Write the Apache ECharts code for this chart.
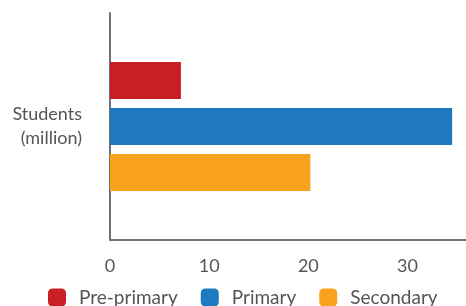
<!DOCTYPE html>
<html>
<head>
<meta charset="utf-8">
<script src="https://cdn.jsdelivr.net/npm/echarts@6/dist/echarts.min.js"></script>
<style>
  html, body { margin: 0; padding: 0; background: #fff; }
  #main { width: 466px; height: 306px; }
</style>
</head>
<body>
<div id="main"></div>
<script>
// chart data
var categories = ['Students\n(million)'];
var seriesNames = ['Pre-primary', 'Primary', 'Secondary'];
var seriesValues = [[7.15], [34.5], [20.2]];
var seriesColors = ['#c81f26', '#1e79bf', '#f9a21e'];
var xTicks = [0, 10, 20, 30];

var chart = echarts.init(document.getElementById('main'));

var series = [];
for (var i = 0; i < seriesNames.length; i++) {
  series.push({
    name: seriesNames[i],
    type: 'bar',
    data: seriesValues[i],
    itemStyle: { color: seriesColors[i] },
    barWidth: 37,
    barGap: '24%'
  });
}

chart.setOption({
  animation: false,
  textStyle: { fontFamily: 'Lato' },
  grid: { left: 110, right: 0, top: 13, bottom: 66 },
  legend: {
    data: seriesNames,
    left: 43,
    top: 283,
    itemWidth: 18,
    itemHeight: 18,
    itemGap: 23,
    icon: 'roundRect',
    textStyle: { fontSize: 19, color: '#555', fontFamily: 'Lato', padding: [0, 0, 0, 8] }
  },
  xAxis: {
    type: 'value',
    min: xTicks[0],
    max: 35.9,
    interval: 10,
    splitLine: { show: false },
    axisLine: { show: true, lineStyle: { color: '#6b7079', width: 2 } },
    axisTick: { show: false },
    axisLabel: { fontSize: 18, color: '#555', margin: 17, showMaxLabel: false, fontFamily: 'Lato' }
  },
  yAxis: {
    type: 'category',
    data: categories,
    inverse: true,
    axisLine: { show: true, lineStyle: { color: '#6b7079', width: 2 } },
    axisTick: { show: false },
    axisLabel: {
      fontSize: 18, color: '#555', margin: 28, align: 'right',
      lineHeight: 24, padding: [5, 0, 0, 0], fontFamily: 'Lato'
    }
  },
  series: series
});
</script>
</body>
</html>
